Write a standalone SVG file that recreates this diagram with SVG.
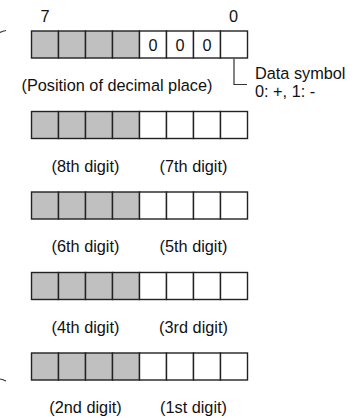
<svg xmlns="http://www.w3.org/2000/svg" width="359" height="419" viewBox="0 0 359 419">
<style>
.g{fill:#c0c0c0;stroke:#222;stroke-width:1.4}
.w{fill:#fff;stroke:#222;stroke-width:1.4}
text{font-family:"Liberation Sans",Arial,sans-serif;font-size:16.3px;fill:#111}
.c{text-anchor:middle}
.ln{fill:none;stroke:#333;stroke-width:1.2}
</style>
<defs>
<g id="row">
<rect class="g" x="31.5" y="0" width="27" height="27"/>
<rect class="g" x="58.5" y="0" width="27" height="27"/>
<rect class="g" x="85.5" y="0" width="27" height="27"/>
<rect class="g" x="112.5" y="0" width="27" height="27"/>
<rect class="w" x="139.5" y="0" width="27" height="27"/>
<rect class="w" x="166.5" y="0" width="27" height="27"/>
<rect class="w" x="193.5" y="0" width="27" height="27"/>
<rect class="w" x="220.5" y="0" width="27" height="27"/>
</g>
</defs>
<g id="row1">
<use href="#row" y="31"/>
<text x="45" y="22" class="c">7</text>
<text x="233.5" y="22" class="c">0</text>
<text x="153" y="50.5" class="c">0</text>
<text x="180" y="50.5" class="c">0</text>
<text x="207" y="50.5" class="c">0</text>
<text x="21.5" y="90.5">(Position of decimal place)</text>
</g>
<g id="row2">
<use href="#row" y="111.5"/>
<text x="85.5" y="171.5" class="c">(8th digit)</text>
<text x="193.5" y="171.5" class="c">(7th digit)</text>
</g>
<g id="row3">
<use href="#row" y="192"/>
<text x="85.5" y="252" class="c">(6th digit)</text>
<text x="193.5" y="252" class="c">(5th digit)</text>
</g>
<g id="row4">
<use href="#row" y="272.5"/>
<text x="85.5" y="332.5" class="c">(4th digit)</text>
<text x="193.5" y="332.5" class="c">(3rd digit)</text>
</g>
<g id="row5">
<use href="#row" y="353"/>
<text x="85.5" y="413" class="c">(2nd digit)</text>
<text x="193.5" y="413" class="c">(1st digit)</text>
</g>
<g id="symbol">
<text x="255" y="79">Data symbol</text>
<text x="255" y="97">0: +, 1: -</text>
</g>
<g id="connectors">
<path class="ln" d="M234 58.5V84.5H247"/>
<path class="ln" d="M0 32.5Q3 31 6 30.5"/>
<path class="ln" d="M0 379Q3 379.5 6 381"/>
</g>
</svg>
